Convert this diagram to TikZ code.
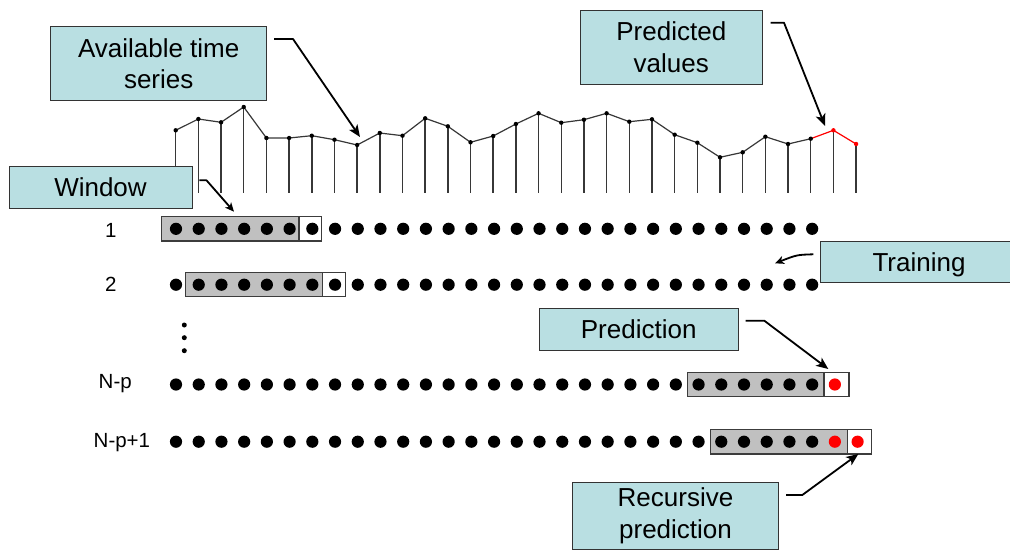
\documentclass[tikz,border=0pt]{standalone}
\usepackage{fontspec}
\setmainfont{Liberation Sans}
\usetikzlibrary{arrows.meta}
\definecolor{callfill}{RGB}{185,223,226}
\definecolor{winfill}{RGB}{192,192,192}
\definecolor{edgegray}{RGB}{60,60,60}
\definecolor{linegray}{RGB}{55,55,55}
\tikzset{
  callout/.style={draw=black!80, line width=0.9pt, fill=callfill, inner sep=0pt, align=center,
     font=\fontsize{26}{31.6}\selectfont},
  callarrow/.style={line width=1.8pt, -{Stealth[length=12pt,width=10pt,inset=3pt]}},
  smallarrow/.style={line width=1.8pt, -{Stealth[length=9pt,width=8pt,inset=2.5pt]}},
  dotnode/.style={circle, fill=black, inner sep=0pt, minimum size=12.2pt},
  reddot/.style={circle, fill=red, inner sep=0pt, minimum size=12.2pt},
  tinydot/.style={circle, fill=black, inner sep=0pt, minimum size=5pt},
  ptdot/.style={circle, fill=black, inner sep=0pt, minimum size=4.4pt},
  ptred/.style={circle, fill=red, inner sep=0pt, minimum size=4.4pt},
  stemline/.style={draw=linegray, line width=1.5pt},
  serline/.style={draw=linegray, line width=1.2pt},
  winrect/.style={draw=edgegray, line width=1.1pt, fill=winfill},
  whiterect/.style={draw=edgegray, line width=1.1pt, fill=white},
  numlab/.style={anchor=base west, inner sep=0pt, font=\fontsize{20.5}{24}\selectfont},
}
\begin{document}
\begin{tikzpicture}[x=1pt,y=-1pt]
\useasboundingbox (0,0) rectangle (1010,552);

% ---------- time series ----------
\foreach \yv [count=\i] in {130.3,119,122.3,107,138,138,135.7,139.7,145,133,135.7,118.3,126.3,142.3,136,124,113.3,122.7,119.7,113.3,121.7,119.3,134.7,142.7,157.3,152.3,136.7,144,138.7,130.3,144}
  { \coordinate (p\i) at ({175.7+(\i-1)*22.68},\yv); }
\foreach \i in {1,...,31} { \draw[stemline] (p\i) -- (p\i |- 0,193); }
\draw[serline, line join=round] (p1) \foreach \i in {2,...,29} { -- (p\i) };
\draw[draw=red, line width=1.2pt, line join=round] (p29) -- (p30) -- (p31);
\foreach \i in {1,...,29} { \node[ptdot] (pd\i) at (p\i) {}; }
\node[ptred] (pd30) at (p30) {};
\node[ptred] (pd31) at (p31) {};

% ---------- window boxes ----------
\draw[winrect] (161.7,216.6) rectangle (299,241);
\draw[whiterect] (299,216.6) rectangle (321.3,241);
\draw[winrect] (185.7,272.5) rectangle (322.7,296.9);
\draw[whiterect] (322.7,272.5) rectangle (345.3,296.9);
\draw[winrect] (687.3,372.3) rectangle (824,396.7);
\draw[whiterect] (824,372.3) rectangle (849,396.7);
\draw[winrect] (710.7,429.4) rectangle (847.7,454);
\draw[whiterect] (847.7,429.4) rectangle (871.7,454);

% ---------- dot rows ----------
\foreach \i in {1,...,29} { \node[dotnode] (ra\i) at ({176+(\i-1)*22.72},228.8) {}; }
\foreach \i in {1,...,29} { \node[dotnode] (rb\i) at ({176+(\i-1)*22.72},284.7) {}; }
\foreach \i in {1,...,29} { \node[dotnode] (rc\i) at ({176+(\i-1)*22.72},384.5) {}; }
\node[reddot] (rc30) at ({176+29*22.72},384.5) {};
\foreach \i in {1,...,29} { \node[dotnode] (rd\i) at ({176+(\i-1)*22.72},441.7) {}; }
\node[reddot] (rd30) at ({176+29*22.72},441.7) {};
\node[reddot] (rd31) at ({176+30*22.72},441.7) {};

\node[tinydot] (v1) at (184.3,325) {};
\node[tinydot] (v2) at (184.3,337.7) {};
\node[tinydot] (v3) at (184.3,350.7) {};

% ---------- row labels ----------
\node[numlab] (l1) at (105,237.7) {1};
\node[numlab] (l2) at (105,291.5) {2};
\node[numlab] (l3) at (98.5,388.3) {N-p};
\node[numlab] (l4) at (93.5,447.5) {N-p+1};

% ---------- callouts ----------
\node[callout, minimum width=216pt, minimum height=74pt] (avail) at (158.7,63.7) {Available time\\series};
\node[callout, minimum width=182pt, minimum height=74.4pt] (pred) at (671.3,47.5) {Predicted\\values};
\node[callout, minimum width=183pt, minimum height=41.6pt] (win) at (100.5,187.5) {Window};
\node[callout, minimum width=198pt, minimum height=40.6pt, text depth=0pt] (train) at (919,262) {Training};
\node[callout, minimum width=199.3pt, minimum height=41.7pt] (predic) at (638.7,329.2) {Prediction};
\node[callout, minimum width=205.6pt, minimum height=67pt] (recur) at (675.5,515.8) {Recursive\\prediction};

% ---------- arrows ----------
\coordinate (a1s) at (274,39);   \coordinate (a1k) at (293,39);   \coordinate (a1t) at (360,137);
\coordinate (a2s) at (770.7,22.7); \coordinate (a2k) at (784,22.7); \coordinate (a2t) at (825,126);
\coordinate (a3s) at (199.3,180.3); \coordinate (a3k) at (206.5,180.3); \coordinate (a3t) at (234,211.7);
\coordinate (a4s) at (745.7,320.7); \coordinate (a4k) at (764.3,320.7); \coordinate (a4t) at (828.3,369);
\coordinate (a5s) at (786,495); \coordinate (a5k) at (802.3,495); \coordinate (a5t) at (858.3,454);
\coordinate (a6s) at (813.3,254.3); \coordinate (a6t) at (775,263.3);
\draw[callarrow, line join=round] (a1s) -- (a1k) -- (a1t);
\draw[callarrow, line join=round] (a2s) -- (a2k) -- (a2t);
\draw[smallarrow, line join=round] (a3s) -- (a3k) -- (a3t);
\draw[callarrow, line join=round] (a4s) -- (a4k) -- (a4t);
\draw[callarrow, line join=round] (a5s) -- (a5k) -- (a5t);
\draw[smallarrow] (a6s) .. controls (797,254.8) .. (a6t);
\end{tikzpicture}
\end{document}
